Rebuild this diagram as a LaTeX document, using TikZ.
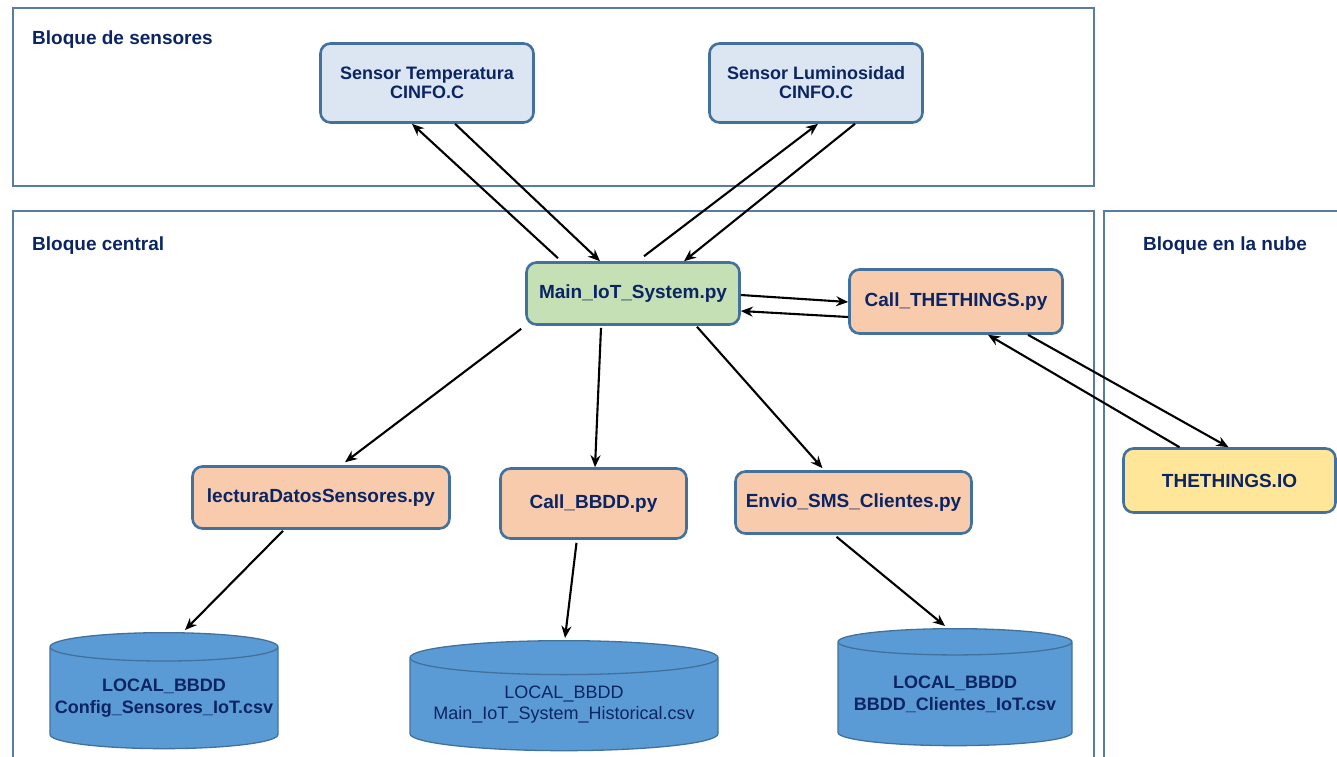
\documentclass[tikz,border=0pt]{standalone}
\usepackage{fontspec}
\setmainfont{Liberation Sans}
\usetikzlibrary{shapes.geometric,arrows.meta}

\definecolor{ink}{RGB}{11,36,99}
\definecolor{edge}{RGB}{65,113,156}
\definecolor{frameblue}{RGB}{88,124,164}
\definecolor{sensorfill}{RGB}{220,230,242}
\definecolor{mainfill}{RGB}{197,224,180}
\definecolor{peach}{RGB}{248,203,173}
\definecolor{cloudfill}{RGB}{255,230,153}
\definecolor{dbfill}{RGB}{91,155,213}

\begin{document}
\begin{tikzpicture}[x=1pt,y=-1pt,
  blockframe/.style={draw=frameblue,line width=1.1pt},
  blocktitle/.style={text=ink,font=\fontsize{19}{19}\selectfont\bfseries,inner sep=0pt},
  box/.style={draw=edge,line width=2.6pt,rounded corners=10pt,text=ink,
    font=\fontsize{19}{19}\selectfont\bfseries,align=center,inner sep=0pt},
  sensorbox/.style={box,fill=sensorfill,font=\fontsize{18}{19}\selectfont\bfseries,
    minimum width=213pt,minimum height=79pt},
  db/.style={cylinder,shape border rotate=90,aspect=0.13,draw=edge,line width=1.3pt,fill=dbfill,
    text=ink,align=center,inner sep=0pt,anchor=north,font=\fontsize{18}{22}\selectfont\bfseries},
  link/.style={line width=2.1pt,-{Stealth[length=12pt,width=10pt]}}]

\useasboundingbox (0,0) rectangle (1337,756);

% block frames
\draw[blockframe] (13,8) rectangle (1094,186);
\draw[blockframe] (13,211) rectangle (1094,780);
\draw[blockframe] (1104,211) rectangle (1360,780);

\node[blocktitle,anchor=base west] (tsens) at (32,44) {Bloque de sensores};
\node[blocktitle,anchor=base west] (tcent) at (32,250) {Bloque central};
\node[blocktitle,anchor=base] (tnube) at (1225,250) {Bloque en la nube};

% sensor block
\node[sensorbox] (stemp) at (427,83) {Sensor Temperatura\\CINFO.C};
\node[sensorbox] (slum) at (816,83) {Sensor Luminosidad\\CINFO.C};

% central block
\node[box,fill=mainfill,minimum width=213pt,minimum height=62pt] (main) at (633,293.5) {Main\_IoT\_System.py};
\node[box,fill=peach,minimum width=213pt,minimum height=64pt] (cthings) at (956,301.5) {Call\_THETHINGS.py};
\node[box,fill=peach,minimum width=257pt,minimum height=62pt] (lectura) at (321,497.5) {lecturaDatosSensores.py};
\node[box,fill=peach,minimum width=186pt,minimum height=70pt] (cbbdd) at (593.5,503.5) {Call\_BBDD.py};
\node[box,fill=peach,minimum width=236pt,minimum height=62pt] (envio) at (853.5,502.5) {Envio\_SMS\_Clientes.py};

% cloud block
\node[box,fill=cloudfill,minimum width=212pt,minimum height=64pt] (tio) at (1229.5,480.5) {THETHINGS.IO};

% local databases
\node[db,minimum width=228pt,minimum height=116pt] (dbcfg) at (164,632) {LOCAL\_BBDD\\Config\_Sensores\_IoT.csv};
\node[db,minimum width=308pt,minimum height=110pt,font=\fontsize{18}{21}\selectfont] (dbhist) at (564,640) {LOCAL\_BBDD\\Main\_IoT\_System\_Historical.csv};
\node[db,minimum width=234pt,minimum height=117pt] (dbcli) at (955,628) {LOCAL\_BBDD\\BBDD\_Clientes\_IoT.csv};

% sensor links
\draw[link] ([xshift=-75pt,yshift=3pt]main.north) -- ([xshift=-15pt]stemp.south);
\draw[link] ([xshift=28pt]stemp.south) -- ([xshift=-33pt]main.north);
\draw[link] ([xshift=11pt,yshift=5pt]main.north) -- ([xshift=2pt]slum.south);
\draw[link] ([xshift=39pt]slum.south) -- ([xshift=51pt]main.north);

% cloud links
\draw[link] ([yshift=-1.5pt]main.east) -- ([yshift=-0.5pt]cthings.west);
\draw[link] ([yshift=-15.5pt]cthings.west) -- ([yshift=-17.5pt]main.east);
\draw[link] ([xshift=72pt]cthings.south) -- ([xshift=-1pt]tio.north);
\draw[link] ([xshift=-50pt]tio.north) -- ([xshift=32pt]cthings.south);

% dispatch from the main script
\draw[link] ([xshift=-4pt,yshift=-3pt]main.south west) -- ([xshift=24pt,yshift=3pt]lectura.north);
\draw[link] ([xshift=-32pt,yshift=-2pt]main.south) -- ([xshift=1.5pt]cbbdd.north);
\draw[link] ([xshift=64pt,yshift=-1pt]main.south) -- ([xshift=-31pt,yshift=2pt]envio.north);

% storage links
\draw[link] ([xshift=-38pt,yshift=-1pt]lectura.south) -- ([xshift=21pt,yshift=2pt]dbcfg.north);
\draw[link] ([xshift=-17pt,yshift=-3pt]cbbdd.south) -- ([xshift=1pt,yshift=2pt]dbhist.north);
\draw[link] ([xshift=-17pt,yshift=-2pt]envio.south) -- ([xshift=-10pt,yshift=2pt]dbcli.north);

\end{tikzpicture}
\end{document}
